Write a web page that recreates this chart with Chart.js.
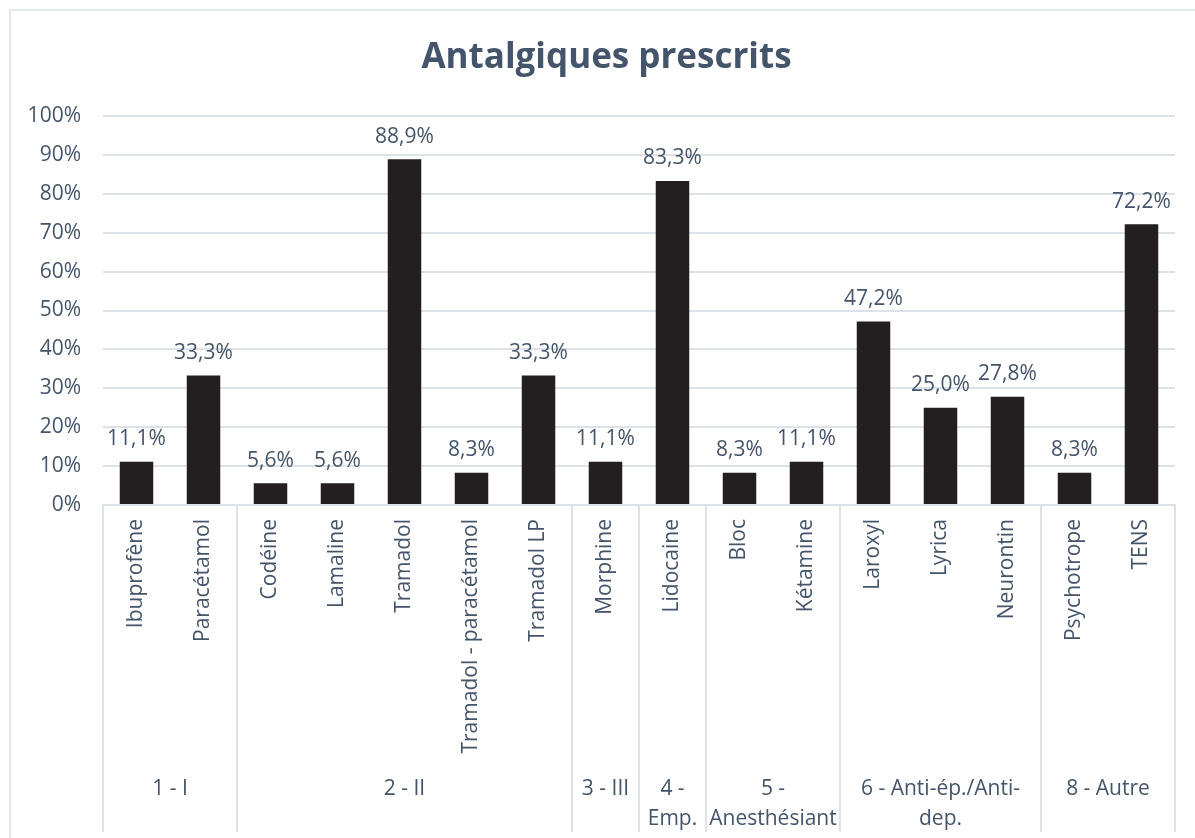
<!DOCTYPE html>
<html>
<head>
<meta charset="utf-8">
<script src="https://cdn.jsdelivr.net/npm/chart.js@4/dist/chart.umd.min.js"></script>
<style>
  html, body { margin: 0; padding: 0; background: #fff; overflow: hidden; }
  #wrap { position: relative; width: 1195px; height: 838px; }
  #frame { position: absolute; left: 9px; top: 9px; width: 1200px; height: 840px; border: 2px solid #E4E8EF; box-sizing: border-box; }
  canvas { position: absolute; left: 0; top: 0; }
</style>
</head>
<body>
<div id="wrap">
  <div id="frame"></div>
  <canvas id="c" width="1195" height="838"></canvas>
</div>
<script>
const categories = ['Ibuprofène','Paracétamol','Codéine','Lamaline','Tramadol','Tramadol - paracétamol','Tramadol LP','Morphine','Lidocaine','Bloc','Kétamine','Laroxyl','Lyrica','Neurontin','Psychotrope','TENS'];
const values = [11.1, 33.3, 5.6, 5.6, 88.9, 8.3, 33.3, 11.1, 83.3, 8.3, 11.1, 47.2, 25.0, 27.8, 8.3, 72.2];
const groupNames = [['1 - I'], ['2 - II'], ['3 - III'], ['4 -', 'Emp.'], ['5 -', 'Anesthésiant'], ['6 - Anti-ép./Anti-', 'dep.'], ['8 - Autre']];
const groupSizes = [2, 5, 1, 1, 2, 3, 2];
const yTicks = [0, 10, 20, 30, 40, 50, 60, 70, 80, 90, 100];

const FONT = "'Open Sans', sans-serif";
const TXT = '#44546A';
const GRID = '#DDE2E9';
const FS = 21;

const fmt = v => v.toFixed(1).replace('.', ',') + '%';

const unclipY = {
  id: 'unclipY',
  afterLayout(chart) { chart.scales.y.left = 0; }
};

const dataLabels = {
  id: 'dataLabels',
  afterDatasetsDraw(chart) {
    const ctx = chart.ctx;
    const meta = chart.getDatasetMeta(0);
    ctx.save();
    ctx.font = FS + 'px ' + FONT;
    ctx.fillStyle = TXT;
    ctx.textAlign = 'center';
    ctx.textBaseline = 'bottom';
    meta.data.forEach((bar, i) => {
      ctx.fillText(fmt(values[i]), bar.x, bar.y - 12);
    });
    ctx.restore();
  }
};

const groups = {
  id: 'groups',
  afterDraw(chart) {
    const ctx = chart.ctx;
    const xs = chart.scales.x;
    const area = chart.chartArea;
    const bottom = 832;
    ctx.save();
    ctx.strokeStyle = GRID;
    ctx.lineWidth = 2;
    let idx = 0;
    const bounds = [area.left];
    groupSizes.forEach(n => {
      idx += n;
      if (idx >= categories.length) bounds.push(area.right);
      else bounds.push((xs.getPixelForValue(idx - 1) + xs.getPixelForValue(idx)) / 2);
    });
    bounds.forEach(b => {
      ctx.beginPath();
      ctx.moveTo(Math.round(b), area.bottom);
      ctx.lineTo(Math.round(b), bottom);
      ctx.stroke();
    });
    ctx.font = FS + 'px ' + FONT;
    ctx.fillStyle = TXT;
    ctx.textAlign = 'center';
    ctx.textBaseline = 'middle';
    groupNames.forEach((lines, g) => {
      const cx = (bounds[g] + bounds[g + 1]) / 2;
      lines.forEach((t, k) => ctx.fillText(t, cx, 789 + k * 30));
    });
    ctx.restore();
  }
};

new Chart(document.getElementById('c'), {
  type: 'bar',
  data: {
    labels: categories,
    datasets: [{
      data: values,
      backgroundColor: '#231F20',
      barPercentage: 0.5,
      categoryPercentage: 1.0
    }]
  },
  options: {
    responsive: false,
    animation: false,
    events: [],
    layout: { padding: { left: 38, right: 20, top: 0, bottom: 0 } },
    plugins: {
      legend: { display: false },
      tooltip: { enabled: false },
      title: {
        display: true,
        text: 'Antalgiques prescrits',
        color: TXT,
        font: { family: FONT, size: 35, weight: 'bold' },
        padding: { top: 37, bottom: 37 }
      }
    },
    scales: {
      x: {
        grid: { display: false, drawTicks: false },
        border: { display: true, color: GRID, width: 2 },
        ticks: {
          color: TXT,
          font: { family: FONT, size: FS },
          minRotation: 90,
          maxRotation: 90,
          autoSkip: false,
          padding: 14
        },
        afterFit(s) { s.height = 838 - 505; }
      },
      y: {
        min: 0,
        max: 100,
        afterBuildTicks(s) { s.ticks = yTicks.map(v => ({ value: v })); },
        grid: { color: GRID, lineWidth: 2, drawTicks: false },
        border: { display: false },
        ticks: {
          color: TXT,
          font: { family: FONT, size: FS },
          padding: 22,
          callback: v => v + '%'
        },
        afterFit(s) { s.width = 65; }
      }
    }
  },
  plugins: [unclipY, dataLabels, groups]
});
</script>
</body>
</html>
